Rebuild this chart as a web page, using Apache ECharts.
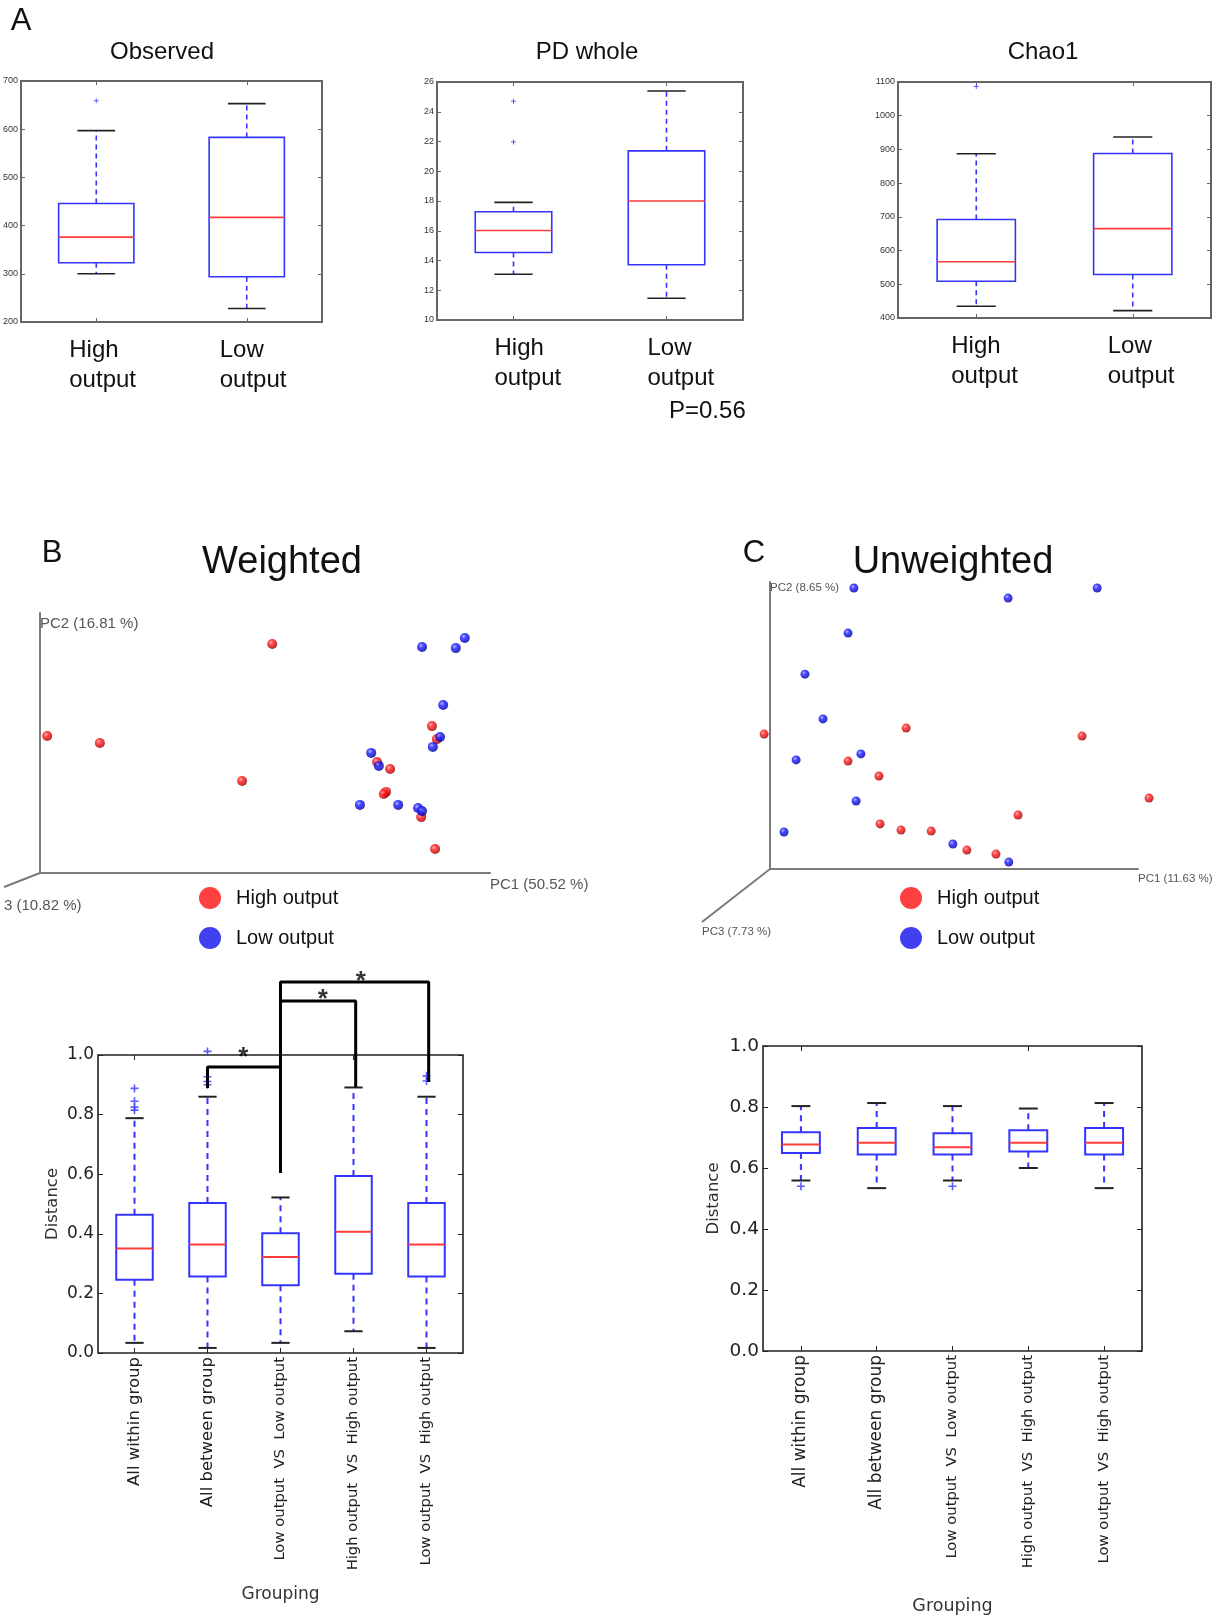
<!DOCTYPE html>
<html><head><meta charset="utf-8">
<script src="https://cdn.jsdelivr.net/npm/echarts/dist/echarts.min.js"></script>
<style>html,body{margin:0;padding:0;background:#fff}#c{width:1218px;height:1616px}</style>
</head><body><div id="c"></div>
<script>
// ---------------- data ----------------
const alphaGroups = ['High output', 'Low output'];
// [whisker low, Q1, median, Q3, whisker high]
const observedBox = [[300, 323, 376, 446, 597], [228, 294, 417, 583, 653]];
const observedOutliers = [[0, 659]];
const pdWholeBox = [[13.08, 14.54, 16.02, 17.28, 17.91], [11.46, 13.71, 18.0, 21.37, 25.39]];
const pdWholeOutliers = [[0, 21.96], [0, 24.70]];
const chao1Box = [[435, 509, 567, 692, 887], [422, 529, 665, 888, 937]];
const chao1Outliers = [[0, 1087]];
const pValueText = 'P=0.56';

// PCoA projections (plot units)
const weightedHighPC = [[51.6,88.1],[1.6,52.7],[13.3,50.0],[44.9,35.4],[87.1,56.5],[88.2,51.5],[74.9,42.7],[77.8,40.0],[76.9,31.2],[76.4,30.4],[84.7,21.5],[87.8,9.2]];
const weightedLowPC = [[84.9,86.9],[92.4,86.5],[94.4,90.4],[89.6,64.6],[88.9,52.3],[87.3,48.5],[73.6,46.2],[75.3,41.2],[71.1,26.2],[79.6,26.2],[84.0,25.0],[84.9,23.8]];
const unweightedHighPC = [[-1.6,47.0],[37.0,49.1],[84.8,46.3],[21.2,37.6],[29.6,32.4],[103.0,24.7],[67.4,18.8],[29.9,15.7],[35.6,13.6],[43.8,13.2],[53.5,6.6],[61.4,5.2]];
const unweightedLowPC = [[22.8,97.9],[64.7,94.4],[88.9,97.9],[21.2,82.2],[9.5,67.9],[14.4,52.3],[24.7,40.1],[7.1,38.0],[23.4,23.7],[3.8,12.9],[49.7,8.7],[64.9,2.4]];
const weightedAxes = ['PC1 (50.52 %)', 'PC2 (16.81 %)', '3 (10.82 %)'];
const unweightedAxes = ['PC1 (11.63 %)', 'PC2 (8.65 %)', 'PC3 (7.73 %)'];

const distanceGroups = ['All within group', 'All between group', 'Low output  VS  Low output', 'High output  VS  High output', 'Low output  VS  High output'];
const weightedBox = [[0.034,0.246,0.351,0.464,0.788],[0.017,0.257,0.364,0.503,0.860],[0.034,0.227,0.322,0.402,0.522],[0.073,0.266,0.407,0.594,0.891],[0.017,0.257,0.364,0.503,0.860]];
const weightedOutliers = [[0,0.815],[0,0.825],[0,0.845],[0,0.888],[1,0.90],[1,0.911],[1,0.927],[1,1.012],[4,0.913],[4,0.93]];
const unweightedBox = [[0.559,0.649,0.677,0.717,0.803],[0.534,0.644,0.683,0.731,0.813],[0.559,0.644,0.668,0.714,0.803],[0.600,0.654,0.683,0.724,0.795],[0.534,0.644,0.683,0.731,0.813]];
const unweightedOutliers = [[0,0.54],[2,0.54]];
// significance brackets (x = group index, y = distance)
const sigBrackets = [
  [[1,0.889],[1,0.96],[2,0.96]],
  [[2,0.604],[2,1.245],[4.03,1.245],[4.03,0.909]],
  [[2,1.181],[3.03,1.181],[3.03,0.893]]
];
const sigStars = [[1.49,1.01],[2.58,1.205],[3.1,1.265]];

// ---------------- helpers ----------------
const FONT = "'Liberation Sans', Arial, sans-serif";
const MPL = "'DejaVu Sans', sans-serif";
const BLUE = '#3434ff', RED = '#ff3c3c', CAP = '#222';
const PLUS = 'path://M4,0h2v4h4v2h-4v4h-2v-4h-4v-2h4z';
const grids = [], xAxes = [], yAxes = [], series = [];
const NOLINE = { show: false, onZero: false };

function makeBoxRenderer(s) {
  return function (params, api) {
    const i = api.value(0);
    const c = k => api.coord([i, api.value(k)]);
    const lo = c(1), q1 = c(2), md = c(3), q3 = c(4), hi = c(5);
    const cx = lo[0];
    const bw = api.size([1, 0])[0] * 0.5;
    const cw = bw * 0.5;
    const wl = { stroke: BLUE, lineWidth: s.lw, lineDash: s.dash };
    return { type: 'group', children: [
      { type: 'line', shape: { x1: cx, y1: q3[1], x2: cx, y2: hi[1] }, style: wl },
      { type: 'line', shape: { x1: cx, y1: q1[1], x2: cx, y2: lo[1] }, style: wl },
      { type: 'line', shape: { x1: cx - cw / 2, y1: hi[1], x2: cx + cw / 2, y2: hi[1] }, style: { stroke: CAP, lineWidth: s.lw } },
      { type: 'line', shape: { x1: cx - cw / 2, y1: lo[1], x2: cx + cw / 2, y2: lo[1] }, style: { stroke: CAP, lineWidth: s.lw } },
      { type: 'rect', shape: { x: cx - bw / 2, y: q3[1], width: bw, height: q1[1] - q3[1] }, style: { fill: 'none', stroke: BLUE, lineWidth: s.lw } },
      { type: 'line', shape: { x1: cx - bw / 2, y1: md[1], x2: cx + bw / 2, y2: md[1] }, style: { stroke: RED, lineWidth: s.lw } }
    ] };
  };
}

function addBoxPanel(p) {
  const gi = grids.length;
  grids.push({ left: p.left, top: p.top, width: p.width, height: p.height, show: true,
    borderColor: p.frame, borderWidth: p.frameW, backgroundColor: 'transparent' });
  const tick = { show: true, inside: true, length: p.tickLen, alignWithLabel: true, lineStyle: { color: p.frame, width: 1 } };
  const xi = xAxes.length;
  xAxes.push({ type: 'category', gridIndex: gi, data: p.categories, axisLine: NOLINE, axisTick: tick,
    axisLabel: p.xLabel, name: p.xName || '', nameLocation: 'middle', nameGap: p.xNameGap || 0,
    nameTextStyle: p.xNameStyle, splitLine: { show: false } });
  xAxes.push({ type: 'category', gridIndex: gi, position: 'top', data: p.categories, axisLine: NOLINE,
    axisTick: tick, axisLabel: { show: false }, splitLine: { show: false } });
  const xv = xAxes.length;
  xAxes.push({ type: 'value', gridIndex: gi, min: -0.5, max: p.categories.length - 0.5, show: false, axisLine: NOLINE });
  const yi = yAxes.length;
  const ytick = { show: true, inside: true, length: p.tickLen, lineStyle: { color: p.frame, width: 1 } };
  yAxes.push({ type: 'value', gridIndex: gi, position: 'left', min: p.min, max: p.max, interval: p.interval, axisLine: NOLINE,
    axisTick: ytick, splitLine: { show: false }, axisLabel: p.yLabel,
    name: p.yName || '', nameLocation: 'middle', nameGap: p.yNameGap || 0, nameTextStyle: p.yNameStyle });
  yAxes.push({ type: 'value', gridIndex: gi, position: 'right', min: p.min, max: p.max, interval: p.interval,
    axisLine: NOLINE, axisTick: ytick, axisLabel: { show: false }, splitLine: { show: false } });
  series.push({ type: 'custom', xAxisIndex: xi, yAxisIndex: yi, renderItem: makeBoxRenderer(p.style),
    data: p.boxes.map((b, i) => [i].concat(b)), encode: { x: 0, y: [1, 2, 3, 4, 5] }, z: 3, silent: true });
  series.push({ type: 'scatter', xAxisIndex: xi, yAxisIndex: yi, data: p.outliers, symbol: PLUS,
    symbolSize: p.outlierSize, itemStyle: { color: BLUE }, z: 4, clip: false, silent: true });
  return { gi, xi, xv, yi };
}

function alphaLabel(shift) {
  return { interval: 0, margin: 13, padding: [0, 0, 0, shift * 2],
    formatter: v => '{a|' + v.split(' ').join('}\n{a|') + '}',
    rich: { a: { width: 66, align: 'left', fontSize: 24, lineHeight: 30, fontFamily: FONT, color: '#111' } } };
}
const smallY = { fontSize: 9, fontFamily: FONT, color: '#333', margin: 3, formatter: v => String(v) };
const alphaStyle = { lw: 1.6, dash: [5, 4] };

addBoxPanel({ left: 21, top: 81, width: 301, height: 241, frame: '#666', frameW: 2, tickLen: 4,
  categories: alphaGroups, min: 200, max: 700, interval: 100, boxes: observedBox, outliers: observedOutliers,
  outlierSize: 5, style: alphaStyle, xLabel: alphaLabel(6), yLabel: smallY });
addBoxPanel({ left: 437, top: 82, width: 306, height: 238, frame: '#666', frameW: 2, tickLen: 4,
  categories: alphaGroups, min: 10, max: 26, interval: 2, boxes: pdWholeBox, outliers: pdWholeOutliers,
  outlierSize: 5, style: alphaStyle, xLabel: alphaLabel(14), yLabel: smallY });
addBoxPanel({ left: 898, top: 82, width: 313, height: 236, frame: '#666', frameW: 2, tickLen: 4,
  categories: alphaGroups, min: 400, max: 1100, interval: 100, boxes: chao1Box, outliers: chao1Outliers,
  outlierSize: 5, style: alphaStyle, xLabel: alphaLabel(8), yLabel: smallY });

// ---------- PCoA scatter panels ----------
function sphere(c0, c1, c2, c3) {
  return { type: 'radial', x: 0.38, y: 0.35, r: 0.7, colorStops: [
    { offset: 0, color: c0 }, { offset: 0.35, color: c1 }, { offset: 0.8, color: c2 }, { offset: 1, color: c3 }] };
}
const redSphere = sphere('#ffa0a0', '#ff1a1a', '#c80000', '#4a0000');
const blueSphere = sphere('#a0a0ff', '#1a1aff', '#0000c8', '#00004a');

function addScatterPanel(p) {
  const gi = grids.length;
  grids.push({ left: p.left, top: p.top, width: p.width, height: p.height });
  const axLine = { show: true, onZero: false, lineStyle: { color: '#7a7a7a', width: 2 } };
  const xi = xAxes.length, yi = yAxes.length;
  xAxes.push({ type: 'value', gridIndex: gi, min: 0, max: 100, axisLine: axLine, axisTick: { show: false },
    axisLabel: { show: false }, splitLine: { show: false } });
  yAxes.push({ type: 'value', gridIndex: gi, min: 0, max: 100, axisLine: axLine, axisTick: { show: false },
    axisLabel: { show: false }, splitLine: { show: false } });
  series.push({ type: 'scatter', name: 'High output', xAxisIndex: xi, yAxisIndex: yi, data: p.high,
    symbolSize: p.size, itemStyle: { color: redSphere }, clip: false, z: 3 });
  series.push({ type: 'scatter', name: 'Low output', xAxisIndex: xi, yAxisIndex: yi, data: p.low,
    symbolSize: p.size, itemStyle: { color: blueSphere }, clip: false, z: 4 });
}
addScatterPanel({ left: 40, top: 613, width: 450, height: 260, high: weightedHighPC, low: weightedLowPC, size: 10 });
addScatterPanel({ left: 770, top: 582, width: 368, height: 287, high: unweightedHighPC, low: unweightedLowPC, size: 9 });

// ---------- distance box plots ----------
function distXLabel(big, small) {
  return { interval: 0, rotate: 90, margin: 4,
    formatter: (v, i) => (i < 2 ? '{b|' : '{s|') + v + '}',
    rich: { b: { fontSize: big, fontFamily: MPL, color: '#222' }, s: { fontSize: small, fontFamily: MPL, color: '#222' } } };
}
const distStyle = { lw: 2, dash: [6, 5] };
const wPanel = addBoxPanel({ left: 98, top: 1055, width: 365, height: 298, frame: '#222', frameW: 1.6, tickLen: 5,
  categories: distanceGroups, min: 0, max: 1, interval: 0.2, boxes: weightedBox, outliers: weightedOutliers,
  outlierSize: 8, style: distStyle, xLabel: distXLabel(16.5, 14.8),
  yLabel: { fontSize: 17, fontFamily: MPL, color: '#222', margin: 4, formatter: v => v.toFixed(1) },
  xName: 'Grouping', xNameGap: 233, xNameStyle: { fontSize: 17, fontFamily: MPL, color: '#333' },
  yName: 'Distance', yNameGap: 37, yNameStyle: { fontSize: 16.5, fontFamily: MPL, color: '#333' } });
addBoxPanel({ left: 763, top: 1046, width: 379, height: 310, frame: '#222', frameW: 1.6, tickLen: 5,
  categories: distanceGroups, min: 0, max: 1, interval: 0.2, boxes: unweightedBox, outliers: unweightedOutliers,
  outlierSize: 8, style: distStyle, xLabel: distXLabel(17, 14.8),
  yLabel: { fontSize: 18.5, fontFamily: MPL, color: '#222', margin: 4, formatter: v => v.toFixed(1) },
  xName: 'Grouping', xNameGap: 246, xNameStyle: { fontSize: 17.5, fontFamily: MPL, color: '#333' },
  yName: 'Distance', yNameGap: 41, yNameStyle: { fontSize: 16.5, fontFamily: MPL, color: '#333' } });

sigBrackets.forEach(seg => series.push({ type: 'line', xAxisIndex: wPanel.xv, yAxisIndex: wPanel.yi, data: seg,
  symbol: 'none', clip: false, silent: true, z: 6, lineStyle: { color: '#000', width: 3 } }));
series.push({ type: 'scatter', xAxisIndex: wPanel.xv, yAxisIndex: wPanel.yi, data: sigStars, symbolSize: 1,
  itemStyle: { color: 'rgba(0,0,0,0)' }, clip: false, silent: true, z: 7,
  label: { show: true, position: 'inside', formatter: '*', fontSize: 26, fontWeight: 'bold', fontFamily: FONT,
    color: '#000', offset: [0, 6] } });

// ---------- text & decorations ----------
function txt(text, x, y, size, opts) {
  return Object.assign({ type: 'text', x: x, y: y, silent: true,
    style: Object.assign({ text: text, fontSize: size, fontFamily: FONT, fill: '#111', align: 'center', verticalAlign: 'middle' }, opts || {}) });
}
const graphics = [
  txt('A', 21, 21, 31),
  txt('Observed', 162, 52, 24),
  txt('PD whole', 587, 52, 24),
  txt('Chao1', 1043, 52, 24),
  txt(pValueText, 669, 411, 24, { align: 'left' }),
  txt('B', 52, 553, 31),
  txt('Weighted', 282, 563, 38),
  txt('C', 754, 553, 31),
  txt('Unweighted', 953, 563, 38),
  txt(weightedAxes[1], 40, 624, 15, { align: 'left', fill: '#555' }),
  txt(weightedAxes[0], 490, 885, 15, { align: 'left', fill: '#555' }),
  txt(weightedAxes[2], 4, 906, 15, { align: 'left', fill: '#555' }),
  txt(unweightedAxes[1], 770, 588, 11.5, { align: 'left', fill: '#555' }),
  txt(unweightedAxes[0], 1138, 879, 11.5, { align: 'left', fill: '#555' }),
  txt(unweightedAxes[2], 702, 932, 11.5, { align: 'left', fill: '#555' }),
  { type: 'line', silent: true, shape: { x1: 40, y1: 873, x2: 4, y2: 887 }, style: { stroke: '#7a7a7a', lineWidth: 2 } },
  { type: 'line', silent: true, shape: { x1: 770, y1: 869, x2: 702, y2: 922 }, style: { stroke: '#7a7a7a', lineWidth: 2 } }
];

const legendItems = [
  { name: 'High output', icon: 'circle', itemStyle: { color: '#ff1010' } },
  { name: 'Low output', icon: 'circle', itemStyle: { color: '#1010ee' } }
];
function legendAt(left) {
  return { left: left, top: 882, orient: 'vertical', itemWidth: 42, itemHeight: 22, itemGap: 18,
    data: legendItems, selectedMode: false, textStyle: { fontSize: 20, fontFamily: FONT, color: '#111' } };
}

const chart = echarts.init(document.getElementById('c'), null, { renderer: 'canvas' });
chart.setOption({
  animation: false,
  backgroundColor: '#fff',
  grid: grids,
  xAxis: xAxes,
  yAxis: yAxes,
  legend: [legendAt(194), legendAt(895)],
  graphic: graphics,
  series: series
});
</script></body></html>
